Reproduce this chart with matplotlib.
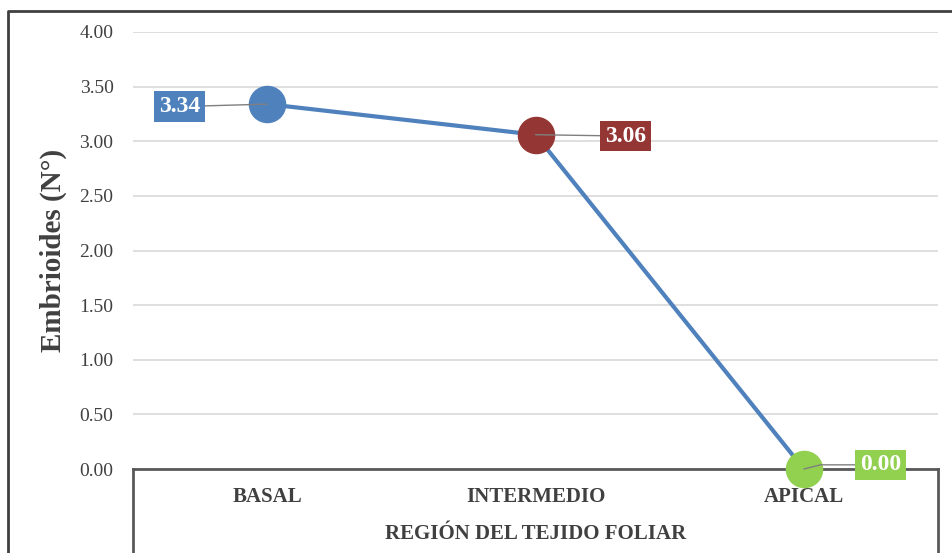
import matplotlib.pyplot as plt
from matplotlib.lines import Line2D

# datos
regiones = ['BASAL', 'INTERMEDIO', 'APICAL']
embrioides = [3.34, 3.06, 0.00]
colores = ['#4f81bd', '#943634', '#92d050']
etiquetas = ['3.34', '3.06', '0.00']
desplaz = [(-63, -1.8), (65, -1), (55, 3)]  # posicion de las etiquetas (pt)
conexion = ['arc3', 'arc3', 'angle,angleA=0,angleB=14,rad=0']

plt.rcParams['font.family'] = ['Liberation Serif', 'DejaVu Serif']
gris = '#404040'

fig = plt.figure(figsize=(9.52, 5.53), dpi=100)
ax = fig.add_axes([133/952, 84/553, 805/952, 437/553])

x = list(range(len(regiones)))
ax.plot(x, embrioides, color='#4f81bd', lw=3, zorder=3)
for i in x:
    ax.plot(x[i], embrioides[i], 'o', ms=26, color=colores[i], zorder=4, clip_on=False)
    ax.annotate(etiquetas[i], xy=(x[i], embrioides[i]), xytext=desplaz[i],
                textcoords='offset points', ha='center', va='center',
                fontsize=17, fontweight='bold', color='white', zorder=5,
                bbox=dict(boxstyle='square,pad=0.2', fc=colores[i], ec='none'),
                arrowprops=dict(arrowstyle='-', color='#7f7f7f', lw=1,
                                shrinkA=0, shrinkB=0, connectionstyle=conexion[i]))

ax.set_xlim(-0.5, 2.5)
ax.set_ylim(0, 4)
ax.set_yticks([i * 0.5 for i in range(9)])
ax.set_yticklabels(['%.2f' % (i * 0.5) for i in range(9)], fontsize=14, color=gris)
ax.set_xticks(x)
ax.set_xticklabels(regiones, fontsize=15, fontweight='bold', color=gris)
ax.tick_params(axis='both', length=0)
ax.tick_params(axis='y', pad=14)
ax.tick_params(axis='x', pad=13)
ax.grid(axis='y', color='#d9d9d9', lw=1.2)
ax.set_axisbelow(True)
for s in ['top', 'left', 'right']:
    ax.spines[s].set_visible(False)
ax.spines['bottom'].set_color('#595959')
ax.spines['bottom'].set_linewidth(2)
ax.spines['bottom'].set_zorder(2)

ax.set_ylabel('Embrioides (N°)', fontsize=21, fontweight='bold', color=gris, labelpad=9)
ax.set_xlabel('REGIÓN DEL TEJIDO FOLIAR', fontsize=15, fontweight='bold', color=gris, labelpad=12)

# caja de la categoria y borde exterior
W, H = 952, 553
for (x0, y0), (x1, y1) in [((133, 469), (133, 553)), ((938, 469), (938, 553))]:
    fig.add_artist(Line2D([x0/W, x1/W], [1 - y0/H, 1 - y1/H], color='#595959', lw=2))
fig.add_artist(Line2D([8/W, 8/W, 1], [0, 1 - 11/H, 1 - 11/H], color='#404040', lw=2))

fig.savefig('out.png', dpi=100)
